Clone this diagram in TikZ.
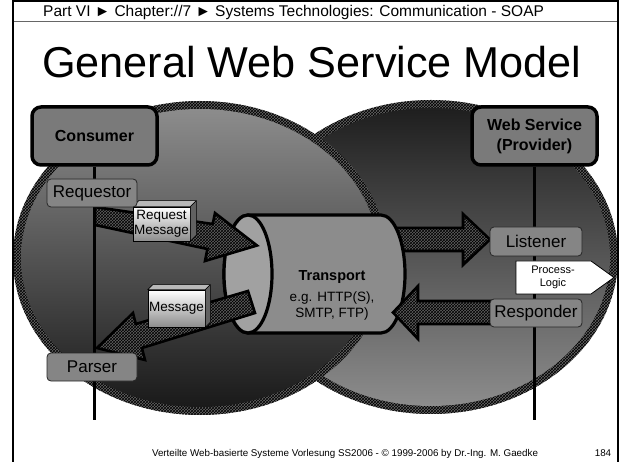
\documentclass[tikz,border=0pt]{standalone}
\usepackage{fontspec}
\setmainfont{Liberation Sans}
\usetikzlibrary{patterns,calc}
\begin{document}
\begin{tikzpicture}[x=1pt,y=-1pt,
  ring/.style={fill=black!60, postaction={pattern=crosshatch, pattern color=black}},
  blockarrow/.style={draw=black, line width=2.6pt, line join=miter, fill=black!62,
    postaction={pattern=crosshatch, pattern color=black}},
  bigbox/.style={draw=black, line width=3.5pt, rounded corners=9pt, fill=black!52,
    align=center, inner sep=0pt, minimum width=125pt, minimum height=58pt,
    font=\bfseries\fontsize{16}{20}\selectfont},
  rolebox/.style={draw=black!85, line width=0.8pt, rounded corners=4pt, fill=black!48,
    inner sep=0pt, minimum width=90pt, minimum height=28pt,
    font=\fontsize{17}{20}\selectfont},
  lifeline/.style={line width=3.5pt},
  cylline/.style={draw=black, line width=3.2pt},
  msgbox/.style={draw=black, line width=0.6pt, top color=white, bottom color=black!45,
    inner sep=0pt, align=center, font=\fontsize{13.5}{15}\selectfont},
  boxtop/.style={fill=black!28, draw=black, line width=0.6pt, line join=round},
  boxside/.style={fill=black!62, draw=black, line width=0.6pt, line join=round}
]
\useasboundingbox (0,0) rectangle (621,462);

% two overlapping spheres: provider behind, consumer in front
\fill[ring] (431,257) ellipse [x radius=187pt, y radius=157pt];
\shade[top color=black!88, bottom color=black!45] (431,257) ellipse [x radius=179pt, y radius=149pt];
\fill[ring] (200,258) ellipse [x radius=187pt, y radius=157pt];
\shade[top color=black!45, middle color=black!58, bottom color=black!90] (200,258) ellipse [x radius=179pt, y radius=149pt];

% slide frame and header rule
\draw[line width=2pt] (12.5,462) -- (12.5,1.5) -- (618,1.5) -- (618,462);
\draw[black!60, line width=1.5pt] (13.5,21.5) -- (617,21.5);

\node[anchor=base west, inner sep=0pt, font=\fontsize{15.5}{18}\selectfont] (hdr) at (43,16.5)
  {Part VI ► Chapter://7 ► Systems Technologies: Communication - SOAP};
\node[anchor=base west, inner sep=0pt, font=\fontsize{43.2}{48}\selectfont] (title) at (42,78)
  {General Web Service Model};

% parties and their lifelines
\node[bigbox] (cons) at (94.5,136) {Consumer};
\node[bigbox] (ws) at (534.5,136) {Web Service\\(Provider)};
\draw[lifeline] (cons.south) -- ++(0,253) coordinate (consend);
\draw[lifeline] (ws.south) -- ++(0,253) coordinate (wsend);

% outgoing message to the listener (tail hidden by the pipe)
\draw[blockarrow] (395,228) -- (463,228) -- (463,214) -- (490,239.5) -- (463,265) -- (463,251) -- (395,251) -- cycle;

% transport pipe
\draw[cylline, fill=black!45] (248,215) -- (381,215)
  arc[start angle=90, end angle=-90, x radius=24pt, y radius=59pt] -- (248,333)
  arc[start angle=270, end angle=90, x radius=24pt, y radius=59pt] -- cycle;
\draw[cylline, fill=black!37] (248,274) ellipse [x radius=24pt, y radius=59pt];
\node[align=center, font=\fontsize{13.5}{16}\selectfont] (transport) at (332,295)
  {{\bfseries\fontsize{14.5}{16}\selectfont Transport}\\[5pt]e.g. HTTP(S),\\SMTP, FTP)};

% message flows
\draw[blockarrow] (95,207) -- (212.7,224) -- (215,213) -- (257,245.5) -- (205,261) -- (207.4,249) -- (95,225) -- cycle;
\draw[blockarrow] (248,291) -- (135.8,324) -- (133,313) -- (97,348) -- (145,360) -- (141.9,348) -- (255,313) -- cycle;
\draw[blockarrow] (491,301) -- (418,301) -- (418,286) -- (393,312.5) -- (418,339) -- (418,324) -- (491,324) -- cycle;

% message envelopes
\node[msgbox, minimum width=57pt, minimum height=34pt] (reqmsg) at (161.5,224) {Request\\Message};
\fill[boxtop] (reqmsg.north west) -- ++(6,-6) -- ($(reqmsg.north east)+(6,-6)$) -- (reqmsg.north east) -- cycle;
\fill[boxside] (reqmsg.north east) -- ++(6,-6) -- ($(reqmsg.south east)+(6,-6)$) -- (reqmsg.south east) -- cycle;
\node[msgbox, minimum width=57pt, minimum height=37pt] (msg) at (176.5,308.5) {Message};
\fill[boxtop] (msg.north west) -- ++(5,-5) -- ($(msg.north east)+(5,-5)$) -- (msg.north east) -- cycle;
\fill[boxside] (msg.north east) -- ++(5,-5) -- ($(msg.south east)+(5,-5)$) -- (msg.south east) -- cycle;

% roles on the lifelines
\node[rolebox] (req) at (92,193) {Requestor};
\node[rolebox] (parser) at (92,367) {Parser};
\node[rolebox, minimum width=92pt, minimum height=29pt] (listener) at (536,241.5) {Listener};
\node[rolebox, minimum width=92pt] (responder) at (536,313) {Responder};

% process logic pointer
\draw[fill=white, line width=0.8pt] (516,261) -- (591,261) -- (614,277.5) -- (591,294) -- (516,294) -- cycle;
\node[align=center, inner sep=0pt, font=\fontsize{11}{13}\selectfont] (procl) at (553,277.5) {Process-\\Logic};

% footer
\node[anchor=base, inner sep=0pt, font=\fontsize{9.8}{11}\selectfont] (foot) at (345,456)
  {Verteilte Web-basierte Systeme Vorlesung SS2006 - © 1999-2006 by Dr.-Ing. M. Gaedke};
\node[anchor=base, inner sep=0pt, font=\fontsize{9.8}{11}\selectfont] (pageno) at (603,456) {184};
\end{tikzpicture}
\end{document}
